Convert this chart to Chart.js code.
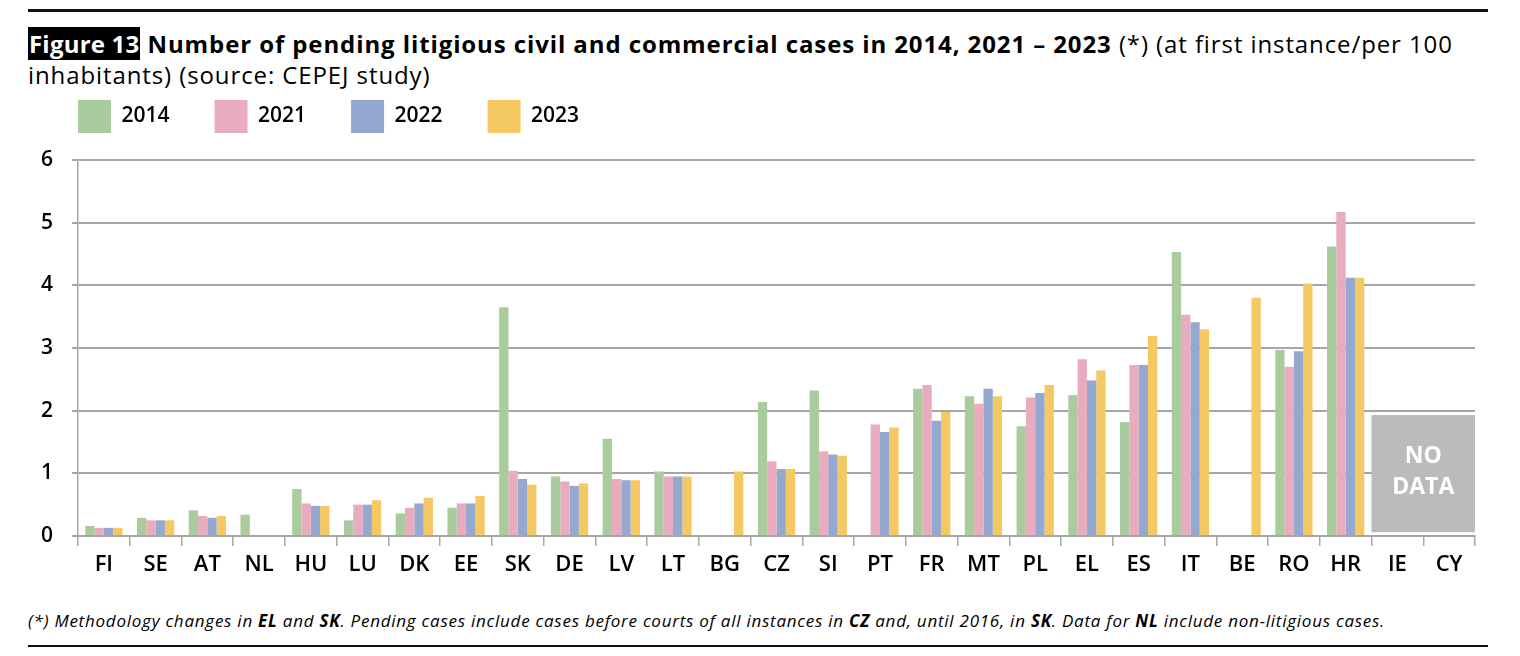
<!DOCTYPE html>
<html>
<head>
<meta charset="utf-8">
<script src="https://cdn.jsdelivr.net/npm/chart.js@4.4.1/dist/chart.umd.min.js"></script>
<style>
  html, body { margin: 0; padding: 0; background: #fff; }
  body { width: 1520px; height: 656px; position: relative; overflow: hidden; font-family: "Open Sans", Roboto, sans-serif; color: #000; }
  .rule-top { position: absolute; left: 28px; top: 9px; width: 1460px; height: 3px; background: #111; }
  .rule-bottom { position: absolute; left: 28px; top: 645px; width: 1460px; height: 2px; background: #111; }
  #title { position: absolute; left: 28px; top: 28px; width: 1490px; font-size: 24px; line-height: 31px; white-space: nowrap; letter-spacing: 0.9px; }
  #title .fig { background: #000; color: #fff; font-weight: 700; padding: 0 1px; letter-spacing: 0.2px; }
  #title b { font-weight: 700; }
  #note { position: absolute; left: 28px; top: 609px; font-size: 17px; font-style: italic; white-space: nowrap; letter-spacing: 0.75px; }
  #wrap { position: absolute; left: 0; top: 50px; width: 1520px; height: 540px; }
</style>
</head>
<body>
<div class="rule-top"></div>
<div id="title"><span class="fig">Figure 13</span> <b>Number of pending litigious civil and commercial cases in 2014, 2021 – 2023</b> (*) (at first instance/per 100<br>inhabitants) (source: CEPEJ study)</div>
<div id="wrap"><canvas id="chart"></canvas></div>
<div id="note">(*) Methodology changes in <b>EL</b> and <b>SK</b>. Pending cases include cases before courts of all instances in <b>CZ</b> and, until 2016, in <b>SK</b>. Data for <b>NL</b> include non-litigious cases.</div>
<div class="rule-bottom"></div>

<script>
const countries = ["FI", "SE", "AT", "NL", "HU", "LU", "DK", "EE", "SK", "DE", "LV", "LT", "BG", "CZ", "SI", "PT", "FR", "MT", "PL", "EL", "ES", "IT", "BE", "RO", "HR", "IE", "CY"];
const years = ["2014", "2021", "2022", "2023"];
const cases2014 = [0.16, 0.29, 0.41, 0.34, 0.75, 0.25, 0.36, 0.45, 3.65, 0.95, 1.55, 1.03, null, 2.14, 2.32, null, 2.35, 2.23, 1.75, 2.25, 1.82, 4.53, null, 2.97, 4.62, null, null];
const cases2021 = [0.13, 0.25, 0.32, null, 0.52, 0.50, 0.45, 0.52, 1.04, 0.87, 0.91, 0.95, null, 1.19, 1.35, 1.78, 2.41, 2.11, 2.21, 2.82, 2.73, 3.53, null, 2.70, 5.17, null, null];
const cases2022 = [0.13, 0.25, 0.29, null, 0.48, 0.50, 0.52, 0.52, 0.91, 0.80, 0.89, 0.95, null, 1.07, 1.30, 1.66, 1.84, 2.35, 2.28, 2.48, 2.73, 3.41, null, 2.95, 4.12, null, null];
const cases2023 = [0.13, 0.25, 0.32, null, 0.48, 0.57, 0.61, 0.64, 0.82, 0.84, 0.89, 0.95, 1.03, 1.07, 1.28, 1.73, 1.98, 2.23, 2.41, 2.64, 3.19, 3.30, 3.80, 4.03, 4.12, null, null];
const yTicks = [0, 1, 2, 3, 4, 5, 6];
// countries without any data, covered by the grey box
const noData = ["IE", "CY"];
const noDataRange = [0.06, 1.93];

const colors = ["#a9cb9e", "#e8acbe", "#95a8d0", "#f4c862"];
const gridGrey = "#a6a6a6";
const tickFont = { family: "'Open Sans', sans-serif", size: 22, weight: "600" };

// extra room under the legend
const legendSpacer = {
    id: "legendSpacer",
    beforeInit(chart) {
        const fit = chart.legend.fit;
        chart.legend.fit = function () {
            fit.call(this);
            this.height += 17;
        };
    }
};

// grey "NO DATA" panel over IE and CY
const noDataBox = {
    id: "noDataBox",
    afterDatasetsDraw(chart) {
        const { ctx, scales: { x, y } } = chart;
        const first = countries.indexOf(noData[0]);
        const last = countries.indexOf(noData[noData.length - 1]);
        const half = (x.getPixelForValue(1) - x.getPixelForValue(0)) / 2;
        const left = x.getPixelForValue(first) - half;
        const right = x.getPixelForValue(last) + half;
        const top = y.getPixelForValue(noDataRange[1]);
        const bottom = y.getPixelForValue(noDataRange[0]);
        ctx.save();
        ctx.fillStyle = "#bbbbbb";
        ctx.fillRect(left, top, right - left, bottom - top);
        ctx.fillStyle = "#ffffff";
        ctx.font = "700 23px 'Open Sans', sans-serif";
        ctx.textAlign = "center";
        ctx.textBaseline = "middle";
        const cx = (left + right) / 2;
        const cy = (top + bottom) / 2;
        ctx.fillText("NO", cx, cy - 17);
        ctx.fillText("DATA", cx, cy + 14);
        ctx.restore();
    }
};

const series = [cases2014, cases2021, cases2022, cases2023];

new Chart(document.getElementById("chart"), {
    type: "bar",
    data: {
        labels: countries,
        datasets: series.map((values, i) => ({
            label: years[i],
            data: values,
            backgroundColor: colors[i],
            borderWidth: 0,
            categoryPercentage: 0.72,
            barPercentage: 1
        }))
    },
    options: {
        responsive: true,
        maintainAspectRatio: false,
        animation: false,
        layout: { padding: { left: 33, right: 45, top: 5, bottom: 0 } },
        plugins: {
            legend: {
                position: "top",
                align: "start",
                labels: {
                    boxWidth: 33,
                    boxHeight: 33,
                    padding: 45,
                    color: "#000",
                    font: { family: "'Open Sans', sans-serif", size: 21, weight: "600" }
                }
            },
            tooltip: { enabled: false }
        },
        scales: {
            x: {
                offset: true,
                grid: {
                    offset: true,
                    drawOnChartArea: false,
                    drawTicks: true,
                    tickLength: 10,
                    color: gridGrey,
                    lineWidth: 1.5
                },
                border: { color: gridGrey, width: 2 },
                ticks: { color: "#000", font: tickFont, padding: 6 },
                afterFit(scale) { scale.height = 54; }
            },
            y: {
                min: 0,
                max: 6,
                afterBuildTicks(scale) { scale.ticks = yTicks.map(v => ({ value: v })); },
                grid: { color: gridGrey, lineWidth: 2, tickLength: 6 },
                border: { color: gridGrey, width: 1.5 },
                ticks: { color: "#000", font: { family: "'Open Sans', sans-serif", size: 21, weight: "600" }, padding: 19 },
                afterFit(scale) { scale.width = 45; }
            }
        }
    },
    plugins: [legendSpacer, noDataBox]
});
</script>
</body>
</html>
